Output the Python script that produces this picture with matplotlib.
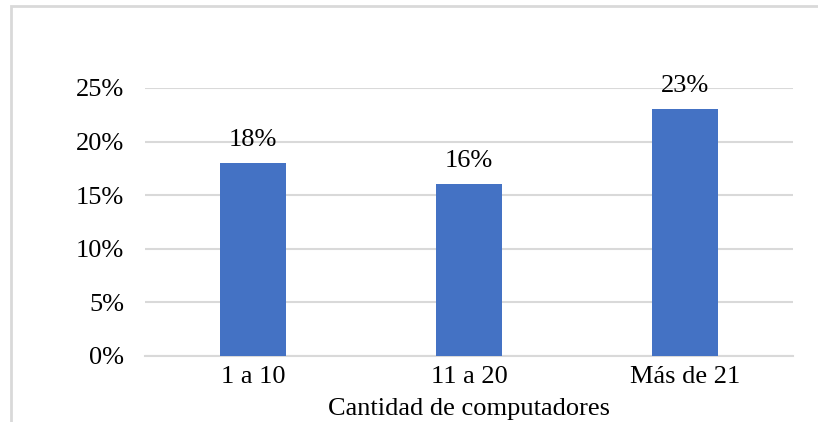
import matplotlib
matplotlib.use("Agg")
import matplotlib.pyplot as plt
from matplotlib.patches import Rectangle
from matplotlib.ticker import FuncFormatter, MultipleLocator

categories = ["1 a 10", "11 a 20", "Más de 21"]
values = [0.18, 0.16, 0.23]
xlabel = "Cantidad de computadores"

plt.rcParams['font.family'] = ['Liberation Serif', 'DejaVu Serif']

W, H = 818, 422
FS = 19
fig = plt.figure(figsize=(W / 100, H / 100), dpi=100)

# chart area border (cropped on right and bottom)
fig.patches.append(Rectangle((11 / W, -0.1), 1.2, 1 - 6 / H + 0.1,
                             transform=fig.transFigure, fill=False,
                             edgecolor='#d9d9d9', linewidth=2, zorder=0))

ax = fig.add_axes([145 / W, 1 - 356 / H, (793 - 145) / W, (356 - 88) / H])
x = [i + 0.5 for i in range(len(categories))]
bars = ax.bar(x, values, width=0.31, color='#4472c4', zorder=3)
ax.set_xlim(0, len(categories))
ax.set_ylim(0, 0.25)
ax.yaxis.set_major_locator(MultipleLocator(0.05))
ax.yaxis.set_major_formatter(FuncFormatter(lambda v, p: f"{v*100:.0f}%"))
ax.grid(axis='y', color='#d9d9d9', linewidth=1.5, zorder=0)
ax.set_xticks(x)
ax.set_xticklabels(categories)
for s in ['top', 'right', 'left']:
    ax.spines[s].set_visible(False)
ax.spines['bottom'].set_color('#d9d9d9')
ax.spines['bottom'].set_linewidth(1.5)
ax.tick_params(axis='both', length=0, labelsize=FS, colors='black')
ax.tick_params(axis='y', pad=15)
ax.tick_params(axis='x', pad=7)
fig.text(469 / W, 1 - 409 / H, xlabel, fontsize=FS, ha='center', va='center')

for xi, v in zip(x, values):
    ax.annotate(f"{v*100:.0f}%", (xi, v), xytext=(0, 9), textcoords='offset points',
                ha='center', va='bottom', fontsize=FS)

fig.savefig("out.png", dpi=100)
